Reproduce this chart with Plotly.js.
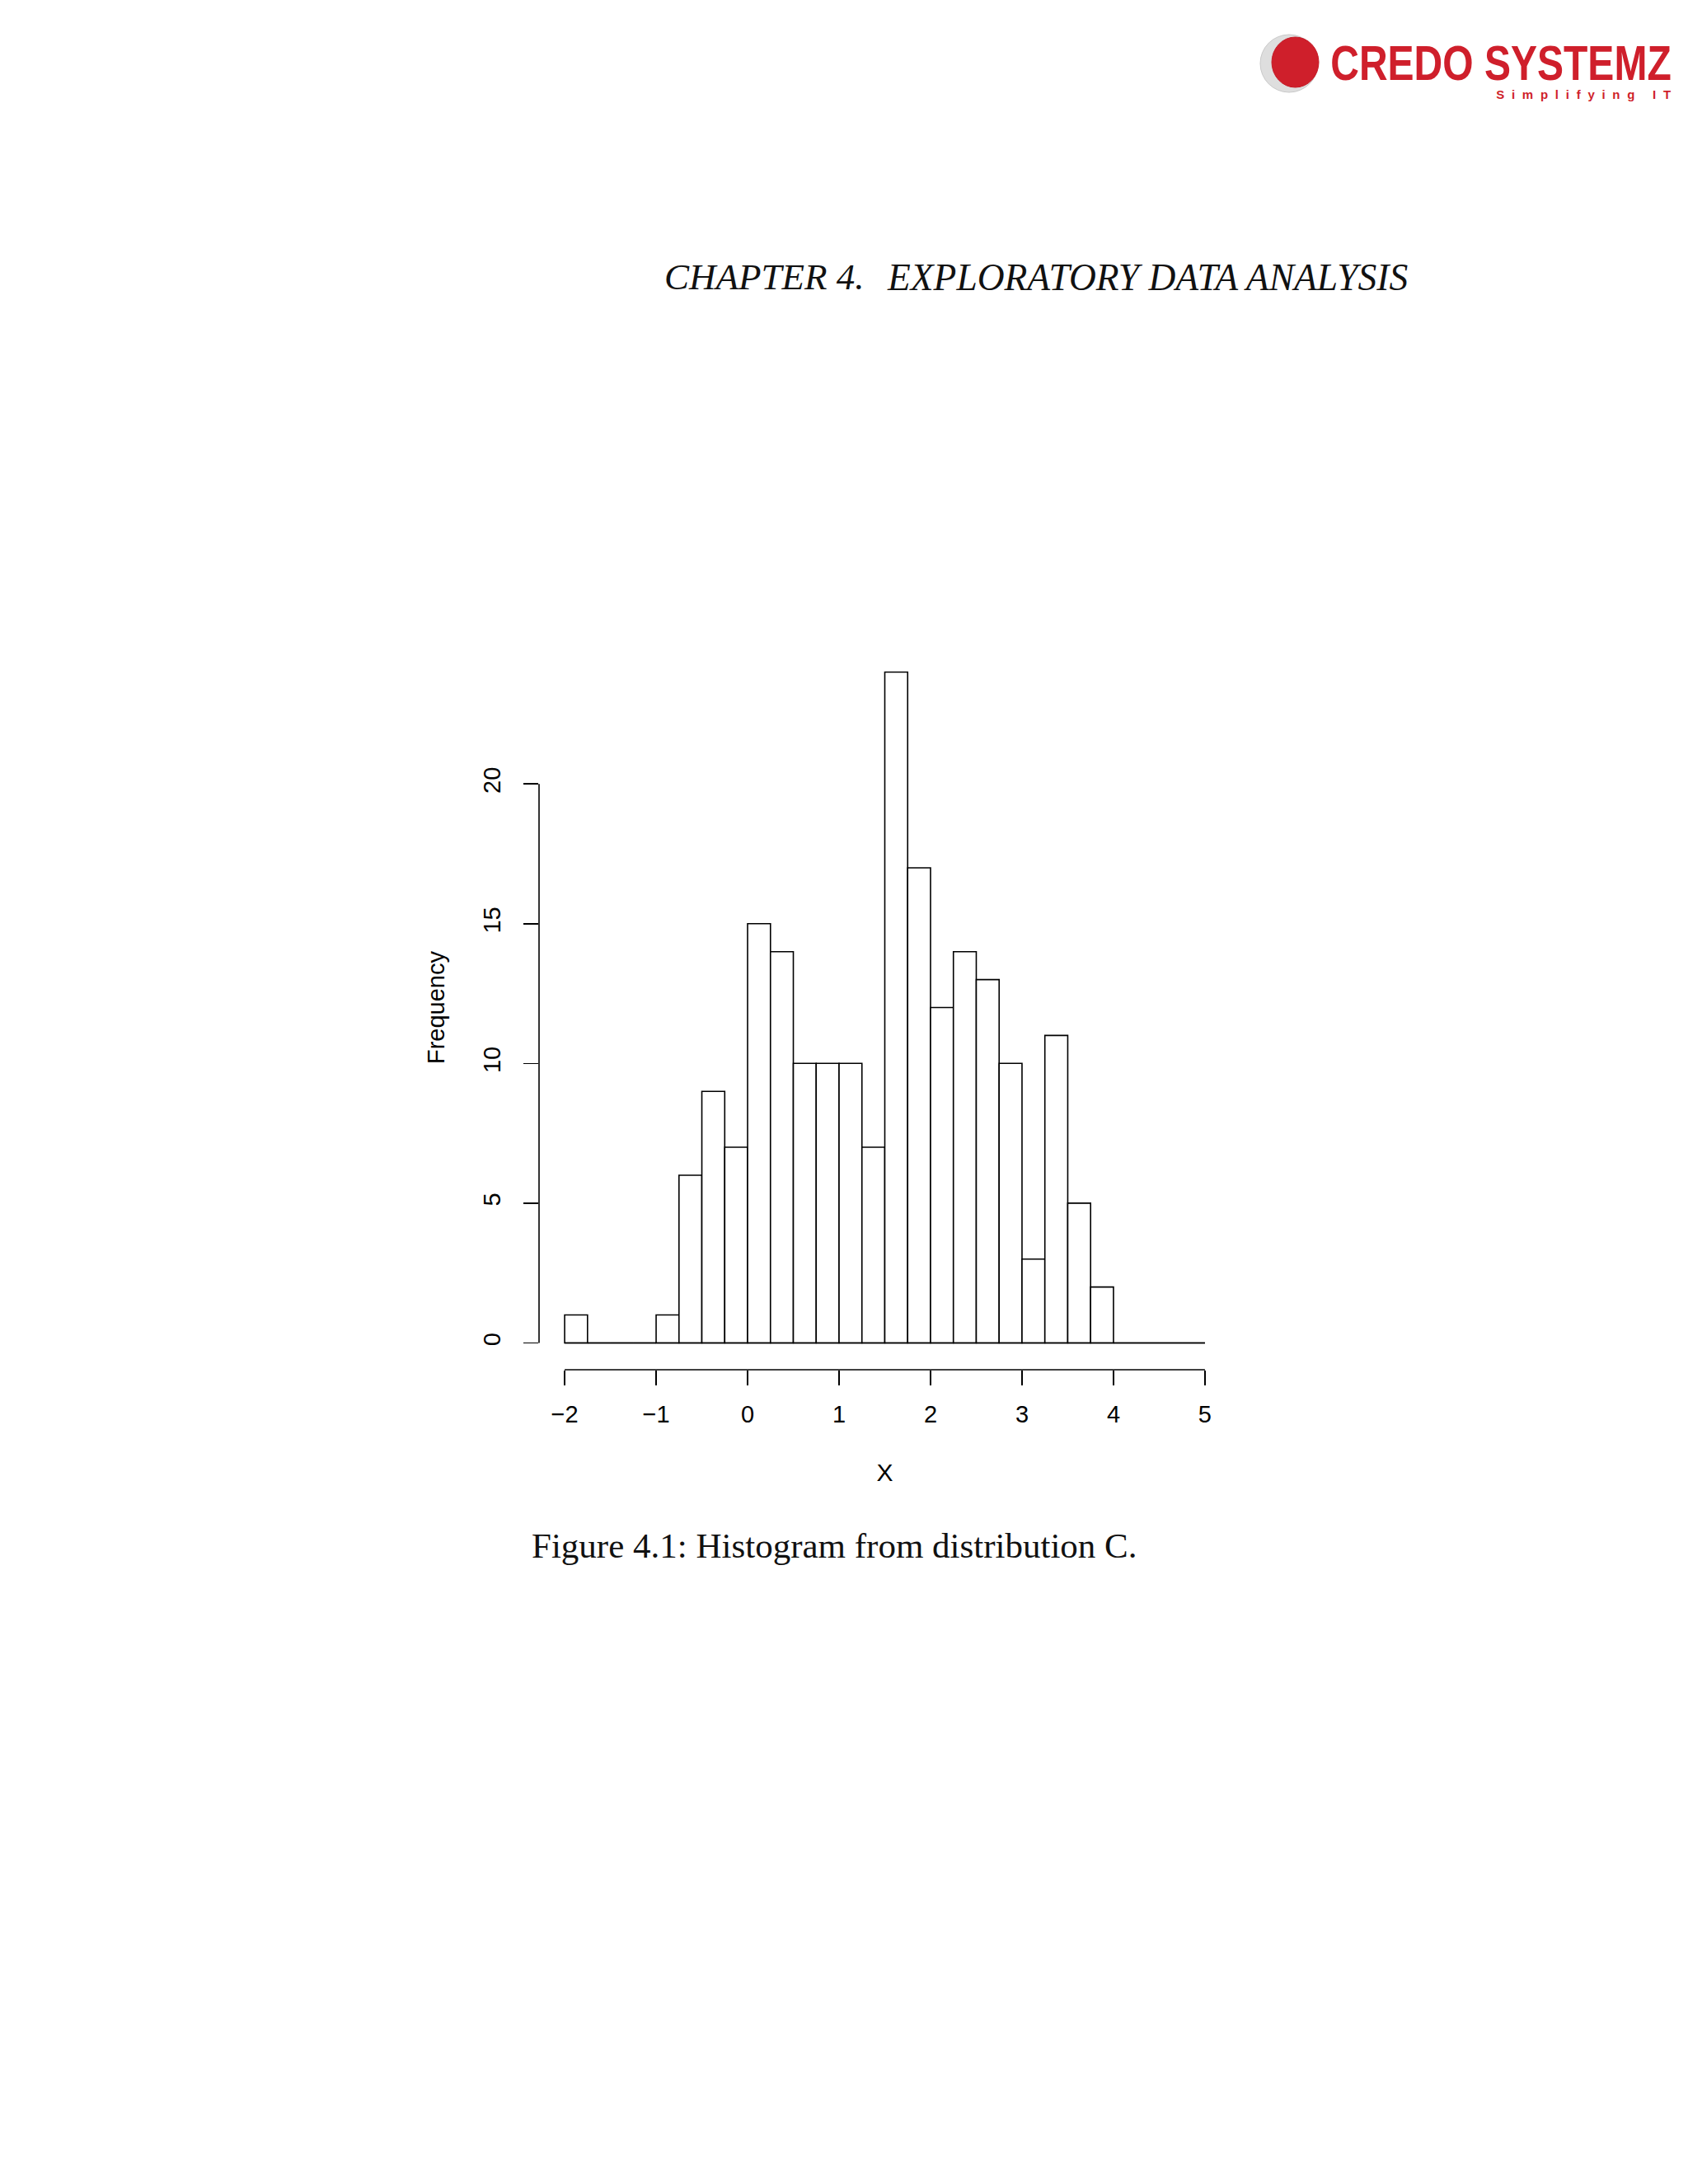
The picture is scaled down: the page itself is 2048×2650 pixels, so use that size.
<!DOCTYPE html>
<html>
<head>
<meta charset="utf-8">
<script src="https://cdn.plot.ly/plotly-3.0.1.min.js"></script>
<style>
  html, body { margin: 0; padding: 0; background: #ffffff; }
  #chart { width: 2048px; height: 2650px; }
</style>
</head>
<body>
<div id="chart"></div>
<script>
// ---- data ----
var binEdges = [-2, -1.75, -1.5, -1.25, -1, -0.75, -0.5, -0.25, 0, 0.25, 0.5, 0.75, 1, 1.25, 1.5, 1.75,
                2, 2.25, 2.5, 2.75, 3, 3.25, 3.5, 3.75, 4, 4.25, 4.5, 4.75, 5];
var counts = [1, 0, 0, 0, 1, 6, 9, 7, 15, 14, 10, 10, 10, 7, 24, 17,
              12, 14, 13, 10, 3, 11, 5, 2, 0, 0, 0, 0];
var xTickVals = [-2, -1, 0, 1, 2, 3, 4, 5];
var yTickVals = [0, 5, 10, 15, 20];
var xTitle = "X";
var yTitle = "Frequency";
var headerLeft = "CHAPTER 4.";
var headerRight = "EXPLORATORY DATA ANALYSIS";
var caption = "Figure 4.1: Histogram from distribution C.";
var logoName = "CREDO SYSTEMZ";
var logoTag = "Simplifying IT";

// ---- derived ----
var centers = [], widths = [];
for (var i = 0; i < counts.length; i++) {
  centers.push((binEdges[i] + binEdges[i + 1]) / 2);
  widths.push(binEdges[i + 1] - binEdges[i]);
}
var xMin = binEdges[0], xMax = binEdges[binEdges.length - 1];
var yMaxData = Math.max.apply(null, counts);
var xPad = 0.04 * (xMax - xMin), yPad = 0.04 * yMaxData;

// page geometry
var W = 2048, H = 2650;
var M = {l: 654, r: 555, t: 783, b: 988};
var PW = W - M.l - M.r, PH = H - M.t - M.b;
function px(x) { return (x - M.l) / PW; }
function py(y) { return (H - M.b - y) / PH; }

var sansFont = "Liberation Sans, Arial, Helvetica, sans-serif";
var serifFont = "Liberation Serif, Times New Roman, serif";

var traces = [
  {
    type: "scatter", mode: "lines",
    x: [xMin, xMax], y: [0, 0],
    line: {color: "#000000", width: 1.6},
    hoverinfo: "skip", showlegend: false
  },
  {
    type: "bar",
    x: centers, y: counts, width: widths,
    marker: {color: "#ffffff", line: {color: "#000000", width: 1.6}},
    hoverinfo: "skip", showlegend: false
  }
];

var red = "#cf1f2b";

var layout = {
  width: W, height: H,
  margin: M,
  paper_bgcolor: "#ffffff", plot_bgcolor: "rgba(0,0,0,0)",
  showlegend: false,
  hovermode: false,
  bargap: 0,
  font: {family: sansFont, color: "#000000"},
  xaxis: {
    range: [xMin - xPad, xMax + xPad],
    tickmode: "array", tickvals: xTickVals,
    ticks: "outside", ticklen: 18, tickwidth: 1.6, tickcolor: "#000000",
    showline: false, showgrid: false, zeroline: false,
    tickfont: {family: sansFont, size: 29, color: "#000000"},
    ticklabelstandoff: 10,
    title: {text: xTitle, font: {family: sansFont, size: 30, color: "#000000"}, standoff: 45},
    automargin: false, fixedrange: true
  },
  yaxis: {
    range: [-yPad, yMaxData + yPad],
    tickmode: "array", tickvals: yTickVals,
    ticks: "outside", ticklen: 18, tickwidth: 1.6, tickcolor: "#000000",
    tickangle: -90,
    showline: false, showgrid: false, zeroline: false,
    tickfont: {family: sansFont, size: 29, color: "#000000"},
    ticklabelstandoff: 16,
    title: {text: yTitle, font: {family: sansFont, size: 29, color: "#000000"}, standoff: 33},
    automargin: false, fixedrange: true
  },
  shapes: [
    // y axis line spanning tick range
    {type: "line", xref: "paper", yref: "y", x0: 0, x1: 0,
     y0: yTickVals[0], y1: yTickVals[yTickVals.length - 1],
     line: {color: "#000000", width: 1.6}},
    // x axis line spanning tick range
    {type: "line", xref: "x", yref: "paper", y0: 0, y1: 0,
     x0: xTickVals[0], x1: xTickVals[xTickVals.length - 1],
     line: {color: "#000000", width: 1.6}},
    // logo: grey sphere + red sphere
    {type: "circle", xref: "paper", yref: "paper", layer: "above",
     x0: px(1529), x1: px(1599), y0: py(112), y1: py(42),
     fillcolor: "#dedede", line: {color: "#c9c9c9", width: 1}},
    {type: "circle", xref: "paper", yref: "paper", layer: "above",
     x0: px(1543), x1: px(1600), y0: py(106), y1: py(45),
     fillcolor: red, line: {color: "#c51a26", width: 1}}
  ],
  annotations: [
    {text: headerLeft, xref: "paper", yref: "paper", x: px(804), y: py(336),
     xanchor: "left", yanchor: "middle", showarrow: false,
     font: {family: serifFont, size: 45, color: "#111111", style: "italic"}},
    {text: headerRight, xref: "paper", yref: "paper", x: px(1074), y: py(336),
     xanchor: "left", yanchor: "middle", showarrow: false,
     font: {family: serifFont, size: 45.5, color: "#111111", style: "italic"}},
    {text: caption, xref: "paper", yref: "paper", x: px(1012), y: py(1875),
     xanchor: "center", yanchor: "middle", showarrow: false,
     font: {family: serifFont, size: 43, color: "#111111"}},
    {text: logoName, xref: "paper", yref: "paper", x: px(1821), y: py(77),
     xanchor: "center", yanchor: "middle", showarrow: false,
     font: {family: sansFont, size: 49, color: red, weight: 700}},
    {text: logoTag, xref: "paper", yref: "paper", x: px(1921), y: py(114),
     xanchor: "center", yanchor: "middle", showarrow: false,
     font: {family: sansFont, size: 15, color: red, weight: 700}}
  ]
};

Plotly.newPlot("chart", traces, layout, {staticPlot: true, displayModeBar: false}).then(function () {
  var nodes = document.querySelectorAll(".annotation-text");
  nodes.forEach(function (n) {
    if (n.textContent === logoName) {
      n.style.transformBox = "fill-box";
      n.style.transformOrigin = "center";
      n.style.transform = "scale(0.98, 1.2)";
    }
    if (n.textContent === logoTag) {
      n.setAttribute("textLength", "212");
      n.setAttribute("lengthAdjust", "spacing");
    }
  });
});
</script>
</body>
</html>
